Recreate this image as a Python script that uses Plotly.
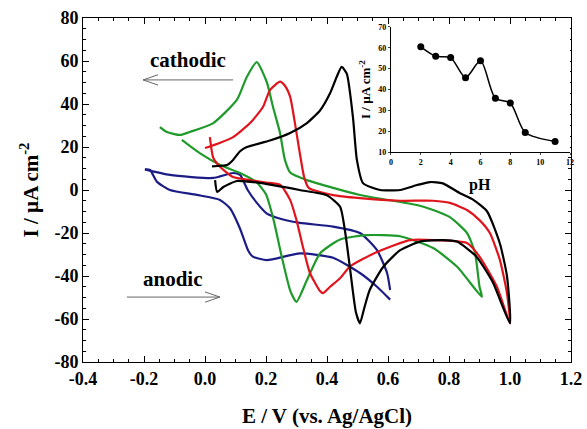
import plotly.graph_objects as go

# ---------------- data ----------------
black_E = [0.033, 0.04, 0.06, 0.105, 0.18, 0.31, 0.40, 0.443, 0.46, 0.475, 0.495, 0.508, 0.522, 0.54, 0.584, 0.64,
           0.705, 0.78, 0.826, 0.89, 0.944, 1.0, 0.99, 0.967, 0.925, 0.88, 0.836, 0.78, 0.738, 0.695, 0.64,
           0.574, 0.518, 0.498, 0.485, 0.465, 0.448, 0.432, 0.41, 0.377, 0.333, 0.279, 0.213, 0.137, 0.115,
           0.092, 0.072, 0.023]
black_I = [4.6, -0.9, 1.4, 4.2, 3.3, 0.0, -2.5, -7.8, -20, -36, -57, -62, -55, -46.5, -35.8, -28,
           -24, -23.3, -24, -31, -43, -62, -40, -25, -10, -4.6, -1.5, 3.1, 3.7, 2.3, 0.0,
           0.0, 3.2, 14, 34, 54, 57.3, 52.7, 45, 37, 31, 26.5, 23, 20, 18,
           14, 11.6, 11]

red_E = [0.016, 0.027, 0.05, 0.092, 0.147, 0.20, 0.246, 0.279, 0.30, 0.322, 0.344, 0.377, 0.387, 0.41,
         0.443, 0.475, 0.564, 0.672, 0.748, 0.859, 0.90, 0.957, 1.0, 0.99, 0.967, 0.934, 0.90, 0.859,
         0.803, 0.748, 0.64, 0.508, 0.42, 0.34, 0.325, 0.311, 0.295, 0.279, 0.262, 0.246, 0.213, 0.19,
         0.147, 0.092, 0.05, 0.0]
red_I = [24.6, 15, 10.7, 6, 4.6, 3.5, 2.5, -4.6, -14, -27, -38.6, -47, -48, -45,
         -41, -35.6, -28.8, -23.3, -23.3, -24.7, -31, -45, -62, -48, -32.6, -20, -14, -9.3,
         -6, -5, -5, -3.8, -2.4, 1, 6, 17, 31, 43.4, 48.5, 50.4, 46.5, 38.6,
         31, 24.6, 22, 19.5]

green_E = [-0.076, -0.016, 0.05, 0.115, 0.17, 0.20, 0.225, 0.25, 0.28, 0.30, 0.334, 0.377, 0.443, 0.53,
           0.64, 0.748, 0.826, 0.908, 0.90, 0.885, 0.859, 0.803, 0.748, 0.695, 0.64, 0.508, 0.42,
           0.334, 0.28, 0.262, 0.246, 0.223, 0.203, 0.17, 0.137, 0.105, 0.026, -0.05, -0.082, -0.125, -0.148]
green_I = [23.3, 17, 11.6, 7.9, 3.5, -2, -14, -30, -47, -52, -42, -29.5, -23, -21,
           -21.5, -27, -35.6, -49.7, -45, -29, -20, -12.6, -9.3, -7, -5.6, -2.3, 1,
           4.6, 8, 14, 26.5, 38.6, 50, 59.5, 52.6, 42, 31, 27, 25.6, 27, 29.3]

blue_E = [-0.197, -0.18, -0.158, -0.115, -0.027, 0.049, 0.082, 0.115, 0.141, 0.157, 0.203, 0.311, 0.42,
          0.508, 0.564, 0.607, None,
          0.607, 0.597, 0.564, 0.508, 0.42, 0.311, 0.25, 0.203, 0.17, 0.14, 0.115, 0.092, 0.027,
          -0.115, -0.197]
blue_I = [9.6, 9.3, 3.9, 0.0, -2.3, -4.6, -8.5, -18, -28, -31, -32.6, -29.5, -31.5,
          -38.6, -45, -51, None,
          -46.5, -38.6, -28, -20, -17, -15.3, -13.5, -11, -6, 0, 7, 7.9, 5.6,
          7, 9.6]

inset_pH = [2, 3, 4, 5, 6, 7, 8, 9, 11]
inset_I = [60.5, 56.0, 55.3, 45.7, 53.8, 35.8, 33.5, 19.4, 15.1]

x_tickvals = [-0.4, -0.2, 0.0, 0.2, 0.4, 0.6, 0.8, 1.0, 1.2]
x_ticktext = ["-0.4", "-0.2", "0.0", "0.2", "0.4", "0.6", "0.8", "1.0", "1.2"]
y_tickvals = [-80, -60, -40, -20, 0, 20, 40, 60, 80]
y_ticktext = ["-80", "-60", "-40", "-20", "0", "20", "40", "60", "80"]

# ---------------- figure ----------------
SERIF = "Liberation Serif"
fig = go.Figure()

curves = [
    (blue_E, blue_I, "#1c1c86"),
    (green_E, green_I, "#1f9a2b"),
    (red_E, red_I, "#e0141c"),
    (black_E, black_I, "#000000"),
]
for xs, ys, col in curves:
    fig.add_trace(go.Scatter(x=xs, y=ys, mode="lines", connectgaps=False,
                             line=dict(color=col, width=2.2, shape="spline", smoothing=0.55),
                             showlegend=False, hoverinfo="skip"))

fig.add_trace(go.Scatter(x=inset_pH, y=inset_I, mode="lines+markers", xaxis="x2", yaxis="y2",
                         line=dict(color="black", width=1.5, shape="spline", smoothing=0.8),
                         marker=dict(color="black", size=7), showlegend=False, hoverinfo="skip"))

axis_common = dict(showline=True, linecolor="black", linewidth=1, mirror="ticks",
                   ticks="inside", ticklen=6, tickwidth=1, tickcolor="black",
                   showgrid=False, zeroline=False, automargin=False,
                   tickfont=dict(family=SERIF, size=18, color="black", weight="bold"))

fig.update_layout(
    width=587, height=429,
    margin=dict(l=83, r=16, t=18, b=67, autoexpand=False),
    paper_bgcolor="white", plot_bgcolor="white",
    xaxis=dict(range=[-0.4, 1.2], tickvals=x_tickvals, ticktext=x_ticktext,
               minor=dict(dtick=0.05, ticks="inside", ticklen=3, tickcolor="black"),
               title=dict(text="E / V (vs. Ag/AgCl)", standoff=20,
                          font=dict(family=SERIF, size=21, color="black", weight="bold")),
               **axis_common),
    yaxis=dict(range=[-80, 80], tickvals=y_tickvals, ticktext=y_ticktext,
               minor=dict(dtick=5, ticks="inside", ticklen=3, tickcolor="black"),
               title=dict(text="I / µA cm<sup>-2</sup>", standoff=10,
                          font=dict(family=SERIF, size=21, color="black", weight="bold")),
               **axis_common),
    xaxis2=dict(domain=[0.631, 0.998], anchor="y2", range=[0, 12], dtick=2,
                showline=True, linecolor="black", linewidth=1, mirror=False, automargin=False,
                ticks="outside", ticklen=2, showgrid=False, zeroline=False,
                tickfont=dict(family=SERIF, size=8, color="black", weight="bold")),
    yaxis2=dict(domain=[0.61, 0.974], anchor="x2", range=[10, 70], dtick=10,
                showline=True, linecolor="black", linewidth=1, mirror=False, automargin=False,
                ticks="outside", ticklen=2, showgrid=False, zeroline=False,
                title=dict(text="I / µA cm<sup>-2</sup>", standoff=4,
                           font=dict(family=SERIF, size=13, color="black", weight="bold")),
                tickfont=dict(family=SERIF, size=8, color="black", weight="bold")),
)

# pH label for the inset
fig.add_annotation(x=0.813, y=0.515, xref="paper", yref="paper", text="pH", showarrow=False,
                   xanchor="center", yanchor="middle",
                   font=dict(family=SERIF, size=16, color="black", weight="bold"))

# cathodic / anodic labels with open arrows
fig.add_annotation(x=-0.056, y=60.5, xref="x", yref="y", text="cathodic", showarrow=False,
                   xanchor="center", yanchor="middle",
                   font=dict(family=SERIF, size=21, color="black", weight="bold"))
fig.add_annotation(x=-0.105, y=-41.4, xref="x", yref="y", text="anodic", showarrow=False,
                   xanchor="center", yanchor="middle",
                   font=dict(family=SERIF, size=21, color="black", weight="bold"))

arrow_line = dict(color="#666666", width=1)
# cathodic arrow (pointing left)
fig.add_shape(type="line", x0=0.092, y0=51.2, x1=-0.203, y1=51.2, line=arrow_line)
fig.add_shape(type="line", x0=-0.203, y0=51.2, x1=-0.154, y1=53.6, line=arrow_line)
fig.add_shape(type="line", x0=-0.203, y0=51.2, x1=-0.154, y1=48.8, line=arrow_line)
# anodic arrow (pointing right)
fig.add_shape(type="line", x0=-0.256, y0=-49.8, x1=0.049, y1=-49.8, line=arrow_line)
fig.add_shape(type="line", x0=0.049, y0=-49.8, x1=0.0, y1=-47.4, line=arrow_line)
fig.add_shape(type="line", x0=0.049, y0=-49.8, x1=0.0, y1=-52.2, line=arrow_line)

fig.write_html("out.html", config={"displayModeBar": False},
               post_script="document.body.style.margin='0';document.body.style.overflow='hidden';")
